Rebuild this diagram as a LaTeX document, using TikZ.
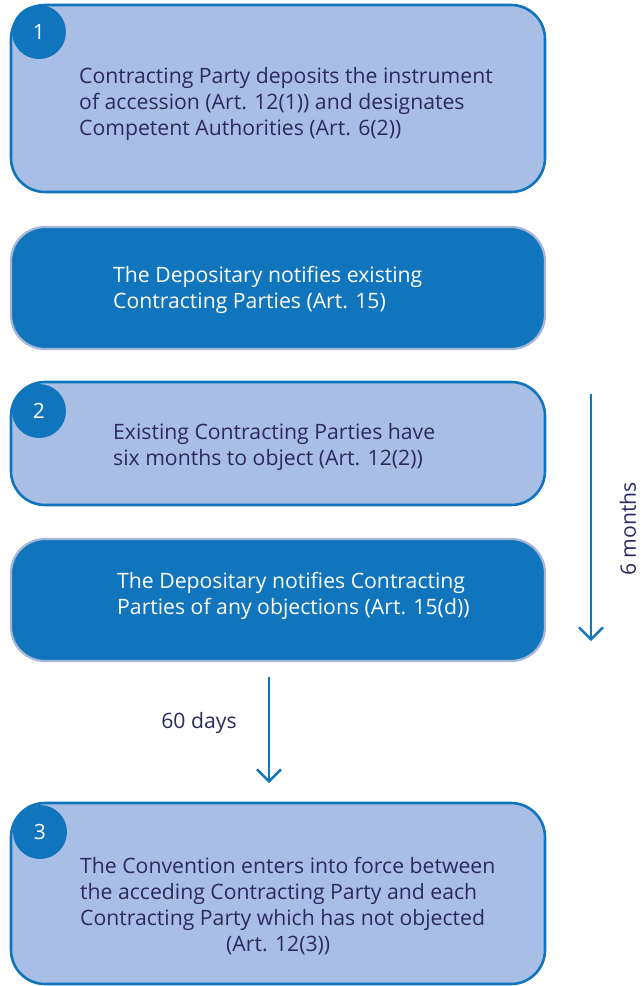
\documentclass[tikz,border=0pt]{standalone}
\usepackage{fontspec}
\setmainfont{Open Sans}
\usetikzlibrary{arrows.meta}
\definecolor{lightfill}{HTML}{A9BEE4}
\definecolor{darkblue}{HTML}{1175BE}
\definecolor{lightedge}{HTML}{A7B6D6}
\definecolor{navy}{HTML}{2B2A5E}
\tikzset{
  x=1pt,y=-1pt,
  lightbox/.style={draw=darkblue,line width=2.6pt,fill=lightfill,rounded corners=34pt,minimum width=534pt,inner sep=0pt},
  darkbox/.style={draw=lightedge,line width=2.2pt,fill=darkblue,rounded corners=34pt,minimum width=534pt,inner sep=0pt},
  numcircle/.style={circle,fill=darkblue,minimum size=54pt,inner sep=0pt,text=white,font=\fontsize{21}{24}\selectfont},
  txt/.style={anchor=west,align=left,inner sep=0pt,font=\fontsize{21.2}{26}\selectfont},
  darktxt/.style={txt,text=navy},
  whitetxt/.style={txt,text=white},
  flow/.style={draw=darkblue,line width=2.4pt,-{Straight Barb[length=12pt,width=24pt,line width=2.4pt]}},
  lbl/.style={text=navy,inner sep=0pt,font=\fontsize{21.2}{24}\selectfont}
}
\begin{document}
\begin{tikzpicture}
\useasboundingbox (0,0) rectangle (641,986);
% boxes
\node[lightbox,minimum height=187pt] (b1) at (278,98.5) {};
\node[darkbox,minimum height=122pt] (b2) at (278,288) {};
\node[lightbox,minimum height=123pt] (b3) at (278,443.5) {};
\node[darkbox,minimum height=122pt] (b4) at (278,600) {};
\node[lightbox,minimum height=181pt] (b5) at (278,893.5) {};
% numbers
\node[numcircle] (n1) at (39,32) {1};
\node[numcircle] (n2) at (39,411) {2};
\node[numcircle] (n3) at (40,832) {3};
% texts
\node[darktxt] (t1) at (79,104) {Contracting Party deposits the instrument\\of accession (Art. 12(1)) and designates\\Competent Authorities (Art. 6(2))};
\node[whitetxt] (t2) at (113,290) {The Depositary notifies existing\\Contracting Parties (Art. 15)};
\node[darktxt] (t3) at (113,447) {Existing Contracting Parties have\\six months to object (Art. 12(2))};
\node[whitetxt] (t4) at (117,596) {The Depositary notifies Contracting\\Parties of any objections (Art. 15(d))};
\node[darktxt] (t5) at (80,906) {The Convention enters into force between\\the acceding Contracting Party and each\\Contracting Party which has not objected\\\hspace*{146pt}(Art. 12(3))};
% arrows
\coordinate (r1) at (591,394);
\coordinate (r2) at (591,641);
\draw[flow] (r1) -- (r2);
\node[lbl,rotate=90] (m6) at (628,529) {6 months};
\coordinate (d1) at (269,677);
\coordinate (d2) at (269,783);
\draw[flow] (d1) -- (d2);
\node[lbl] (d60) at (199,723) {60 days};
\end{tikzpicture}
\end{document}
